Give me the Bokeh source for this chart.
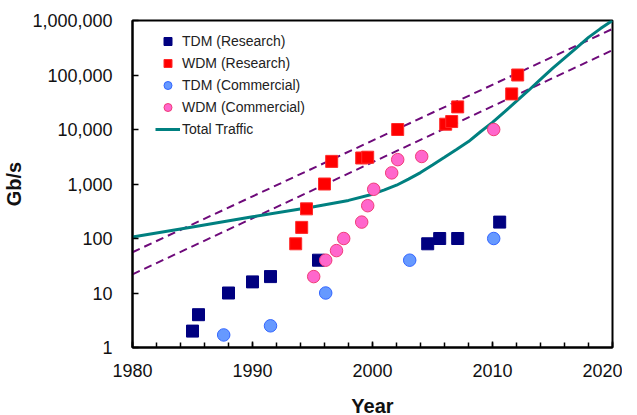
from bokeh.plotting import figure
from bokeh.models import FixedTicker, NumeralTickFormatter, Range1d, Legend, LegendItem
from bokeh.embed import file_html
from bokeh.resources import INLINE

# ---- data ----
tdm_res_year = [1985.0, 1985.5, 1988.0, 1990.0, 1991.5, 1995.5, 2004.6, 2005.6, 2007.1, 2010.6]
tdm_res_gbps = [2, 4, 10, 16, 20, 40, 80, 100, 100, 200]

wdm_res_year = [1993.6, 1994.1, 1994.5, 1996.0, 1996.6, 1999.1, 1999.6, 2002.1, 2006.1, 2006.6, 2007.1, 2011.6, 2012.1]
wdm_res_gbps = [80, 160, 350, 1000, 2600, 3000, 3100, 10000, 12500, 14000, 26000, 45000, 100000]

tdm_com_year = [1987.6, 1991.5, 1996.1, 2003.1, 2010.1]
tdm_com_gbps = [1.7, 2.5, 10, 40, 100]

wdm_com_year = [1995.1, 1996.1, 1997.0, 1997.6, 1999.1, 1999.6, 2000.1, 2001.6, 2002.1, 2004.1, 2010.1]
wdm_com_gbps = [20, 40, 60, 100, 200, 400, 800, 1600, 2800, 3200, 10000]

traffic_year = [1980, 1985, 1990, 1995, 1998, 2000, 2001, 2002, 2003, 2004, 2005, 2006, 2007,
                2008, 2009, 2010, 2011, 2012, 2013, 2014, 2015, 2016, 2017, 2018, 2019, 2020]
traffic_gbps = [107, 162, 250, 380, 500, 650, 780, 950, 1230, 1620, 2240, 3100, 4300,
                6000, 9100, 13500, 21000, 33000, 52000, 83000, 132000, 204000, 316000, 490000, 710000, 1000000]

trend_year = [1980, 2020]
trend_upper = [56, 700000]
trend_lower = [22, 285000]

x_ticks = [1980, 1990, 2000, 2010, 2020]
x_minor = list(range(1980, 2021, 2))
y_ticks = [1, 10, 100, 1000, 10000, 100000, 1000000]

FONT = "Liberation Sans"

p = figure(frame_width=480, frame_height=327, y_axis_type="log",
           x_range=Range1d(1980, 2020), y_range=Range1d(1, 1000000),
           output_backend="svg", toolbar_location=None,
           min_border_left=131, min_border_right=10, min_border_top=20, min_border_bottom=40)

p.background_fill_color = "white"
p.border_fill_color = "white"
p.outline_line_color = "black"
p.outline_line_width = 2
p.xgrid.visible = False
p.ygrid.visible = False

# trend lines
r_up = p.line(trend_year, trend_upper, line_color="#6E0A7A", line_width=2, line_dash="8 5")
r_lo = p.line(trend_year, trend_lower, line_color="#6E0A7A", line_width=2, line_dash="8 5")

# total traffic
r_tt = p.line(traffic_year, traffic_gbps, line_color="#008080", line_width=3)

r_tdm_res = p.scatter(tdm_res_year, tdm_res_gbps, marker="square", size=12,
                      fill_color="#000080", line_color="#000080")
r_wdm_res = p.scatter(wdm_res_year, wdm_res_gbps, marker="square", size=12,
                      fill_color="#FF0000", line_color="#FF2A2A")
r_tdm_com = p.scatter(tdm_com_year, tdm_com_gbps, marker="circle", size=12.5,
                      fill_color="#6699FF", line_color="#3366FF")
r_wdm_com = p.scatter(wdm_com_year, wdm_com_gbps, marker="circle", size=12.5,
                      fill_color="#FF66CC", line_color="#F03C78")

legend = Legend(items=[
    LegendItem(label="TDM (Research)", renderers=[r_tdm_res]),
    LegendItem(label="WDM (Research)", renderers=[r_wdm_res]),
    LegendItem(label="TDM (Commercial)", renderers=[r_tdm_com]),
    LegendItem(label="WDM (Commercial)", renderers=[r_wdm_com]),
    LegendItem(label="Total Traffic", renderers=[r_tt]),
], location=(23, 208))
legend.padding = 0
legend.margin = 0
legend.spacing = 2
legend.glyph_width = 25
legend.glyph_height = 20
legend.label_height = 20
legend.label_standoff = 2
legend.border_line_color = None
legend.background_fill_alpha = 0
legend.label_text_font = FONT
legend.label_text_font_size = "14px"
legend.label_text_color = "#222222"
p.add_layout(legend)

# axes
xa = p.xaxis[0]
xa.ticker = FixedTicker(ticks=x_ticks, minor_ticks=x_minor)
xa.axis_label = "Year"
ya = p.yaxis[0]
ya.ticker = FixedTicker(ticks=y_ticks, minor_ticks=[])
ya.formatter = NumeralTickFormatter(format="0,0")
ya.axis_label = "Gb/s"

for ax in (xa, ya):
    ax.axis_line_width = 2
    ax.axis_line_color = "black"
    ax.major_tick_in = 6
    ax.major_tick_out = 0
    ax.minor_tick_in = 5
    ax.minor_tick_out = 0
    ax.major_tick_line_width = 1.5
    ax.minor_tick_line_width = 1.5
    ax.major_label_text_font = FONT
    ax.major_label_text_font_size = "18px"
    ax.major_label_text_color = "#111111"
    ax.axis_label_text_font = FONT
    ax.axis_label_text_font_size = "20px"
    ax.axis_label_text_font_style = "bold"
    ax.axis_label_text_color = "#111111"

xa.major_label_standoff = 16
xa.axis_label_standoff = 15
ya.major_label_standoff = 20
ya.axis_label_standoff = 4

open("out.html", "w").write(file_html(p, INLINE))
